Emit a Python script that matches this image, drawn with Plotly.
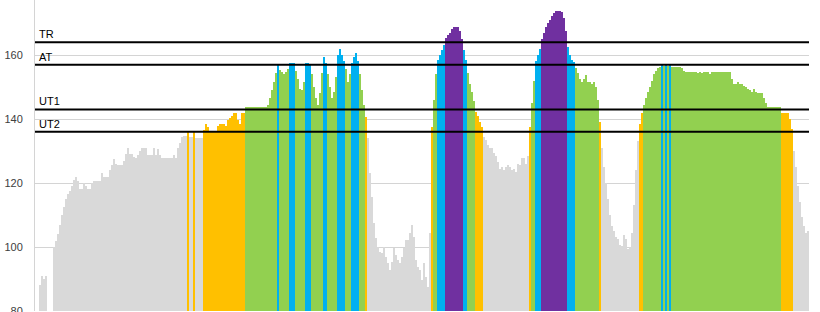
import plotly.graph_objects as go

# Heart-rate samples (bpm), read left to right from the reference
hr_warmup = [78, 78, 88, 91, 90, 91, 78, 78, 78, 100,
             102, 104, 107, 110, 112.5, 115, 116.5, 117.5, 119, 121,
             122, 120.5, 118, 118, 120, 119, 118, 118, 120, 120.5,
             120.5, 120.5, 120.5, 123, 122, 122, 122, 124, 125.5, 127.5,
             126, 125.5, 125.5, 125.5, 127, 129, 130.8, 129, 129, 128,
             127.7, 128.7, 130, 130.8, 130.8, 130.8, 128.7, 128.7, 128.7, 130.8,
             128.7, 130.5, 128.7, 127.7, 127.7, 127.7, 127.7, 127.7, 127.7, 128.7,
             127.7, 130.8, 132.5, 134.5, 134.8, 134.8, 136.1, 134.5, 134.5, 136.1,
             134, 134, 134, 134, 136.5, 138.6, 137.5, 136.2, 136.2, 136.2,
             136.2, 137.8, 138.6, 138.6, 138.6, 137.8, 139.7, 140.2, 140.8, 141.8,
             141.8, 139.7, 138.6, 141.8, 141.8]

hr_set1 = [143.9, 143.9, 143.9, 143.9, 143.9, 143.9, 143.9, 143.9, 143.9, 143.9, 143.9,
           144.5, 146.5, 149, 151.5, 154.5, 157.1, 155.3, 154.8, 154.1,
           154.8, 155.5, 157.6, 157.6, 157.6, 155, 152.5, 149.5, 149.1, 151.7,
           157.4, 157.6, 157.2, 154, 150, 146.5, 144.5, 148, 154.5, 159.5,
           157.4, 154, 150, 146.5, 148.5, 153, 160, 161.8, 160, 158,
           155.5, 151.7, 154, 157.5, 159.5, 160.7, 158, 154, 149, 144.5,
           140.5, 134]

hr_recovery1 = [123, 115.7, 107.4, 102.7, 100, 98.5, 98, 100, 97, 94.9,
                92.8, 95.4, 99.6, 97.5, 96, 94.9, 97, 99.6, 102.2, 102.2,
                104.3, 106.9, 103.2, 96, 93.9, 92.8, 89.7, 94.9, 90.7, 87.6,
                104.3]

hr_set2 = [137.6, 146, 154, 158.5, 160, 161.5, 163, 165.2, 166.2, 167,
           168, 168.8, 168.8, 168.8, 167.5, 165, 161.5, 158.5, 154.5, 151,
           148.5, 145.5, 142.3, 141, 139, 137.6, 134.5, 133.5, 131.8, 131,
           131, 129.3, 128.5, 126.5, 124.5, 125, 124, 125, 125.6, 125,
           124, 124.5, 123.5, 126, 125.6, 127.7, 127.7, 126, 128.5]

hr_set3 = [137.5, 145, 152, 158, 160, 162, 165, 167, 168.8, 170,
           171, 172.3, 173.2, 173.75, 173.75, 173.75, 173.5, 171.5, 167.5, 162.5,
           160, 158.5, 157.8, 156, 154.3, 152.5, 151.7, 152.5, 153.7, 151.7,
           151.7, 151.1, 151.5, 150, 146, 139, 131, 125, 120, 115,
           110, 106.5, 105, 103.2, 102.5, 100.5, 100.3, 103.7, 102.5, 99.5,
           100, 104.5, 113, 124, 133]

hr_set4 = [138.6, 141.8, 144.5, 146.5, 148.5, 150, 152, 154, 155, 155.8,
           156.4, 157.3, 156.6, 157.3, 156.6, 157.2, 156.4, 156.2, 156.4, 156.2,
           156.4, 156, 155, 154.8, 154.8, 154.8, 154.8, 154.8, 154.8, 154.3,
           154.8, 154.3, 154.8, 154.8, 154.8, 154, 154.8, 154.8, 154.8, 154.8,
           154.8, 154.8, 154.8, 154.8, 154.8, 154.8, 152.5, 151.1, 150.8, 151.5,
           151, 151, 150.3, 150, 149.5, 149, 148.5, 149.5, 148.5, 148,
           148, 148, 146.5, 145, 143.9, 143.9, 143.9, 143.9, 143.9, 143.9,
           143.9, 141.8, 141.8, 141.8, 141.8, 140, 137, 130, 125, 119,
           114, 109.5, 106.5, 104.3, 105]

# Training-zone thresholds (bpm)
zone_names = ["UT2", "UT1", "AT", "TR"]
zone_hr = [136, 143, 157, 164]
zone_colors = ["#d9d9d9", "#ffc000", "#92d050", "#00b0f0", "#7030a0"]

y_ticks = [80, 100, 120, 140, 160]

hr = hr_warmup + hr_set1 + hr_recovery1 + hr_set2 + hr_set3 + hr_set4
samples = list(range(len(hr)))


def zone_color(v):
    idx = 0
    for t in zone_hr:
        if v >= t:
            idx += 1
    return zone_colors[idx]


colors = [zone_color(v) for v in hr]

fig = go.Figure()
fig.add_trace(go.Bar(
    x=samples, y=hr,
    marker=dict(color=colors, line=dict(width=0)),
    hoverinfo="skip", showlegend=False,
))

for name, val in zip(zone_names, zone_hr):
    fig.add_shape(type="line", xref="paper", x0=0, x1=1, yref="y", y0=val, y1=val,
                  line=dict(color="#000000", width=2), layer="above")
    fig.add_annotation(text=name, xref="paper", x=0, xanchor="left", xshift=2,
                       yref="y", y=val, yanchor="bottom", yshift=0,
                       showarrow=False,
                       font=dict(family="Liberation Sans", size=11, color="#000000"))

fig.update_layout(
    width=820, height=312, autosize=False,
    margin=dict(l=35, r=11, t=0, b=1, pad=0, autoexpand=False),
    plot_bgcolor="#ffffff", paper_bgcolor="#ffffff",
    bargap=0, showlegend=False,
    xaxis=dict(visible=False, range=[-0.5, len(hr) - 0.5], fixedrange=True,
               automargin=False),
    yaxis=dict(range=[80, 177.2], tickvals=y_ticks, ticktext=[str(v) for v in y_ticks],
               showgrid=True, gridcolor="#d4d4d4", gridwidth=1,
               showline=True, linecolor="#d4d4d4", linewidth=1,
               zeroline=False, ticks="", ticklabelstandoff=9,
               ticklabeloverflow="allow", automargin=False,
               tickfont=dict(family="Liberation Sans", size=11, color="#404040"),
               fixedrange=True),
)

fig.write_html("out.html", config={"displayModeBar": False, "staticPlot": True})
